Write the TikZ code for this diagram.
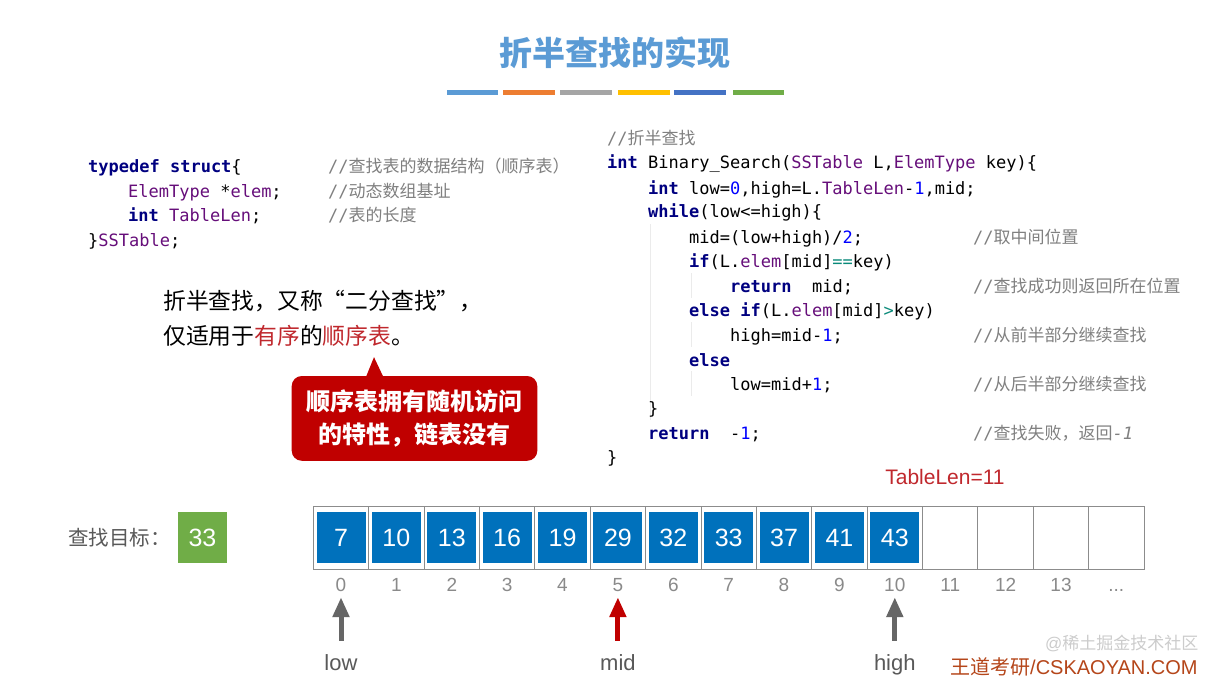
\documentclass[tikz,border=0pt]{standalone}
\usepackage{fontspec}
\setmainfont{Liberation Sans}
\newfontfamily\cjk{Noto Sans CJK SC}
\newfontfamily\codefont{DejaVu Sans Mono}
\usetikzlibrary{arrows.meta, positioning, calc}
\definecolor{TitleBlue}{HTML}{5B9BD5}
\definecolor{BarOrange}{HTML}{ED7D31}
\definecolor{BarGray}{HTML}{A5A5A5}
\definecolor{BarGold}{HTML}{FFC000}
\definecolor{BarBlue}{HTML}{4472C4}
\definecolor{BarGreen}{HTML}{70AD47}
\definecolor{KwNavy}{HTML}{000080}
\definecolor{TyPurple}{HTML}{660E7A}
\definecolor{NumBlue}{HTML}{0000FF}
\definecolor{OpTeal}{HTML}{0A8A7A}
\definecolor{CmtGray}{HTML}{808080}
\definecolor{DarkRed}{HTML}{C00000}
\definecolor{TextRed}{HTML}{C0282D}
\definecolor{CellBlue}{HTML}{0071BC}
\definecolor{CellLine}{HTML}{8C8C8C}
\definecolor{IdxGray}{HTML}{8A8A8A}
\definecolor{LabelGray}{HTML}{595959}
\definecolor{PtrGray}{HTML}{666666}
\definecolor{MarkBrown}{HTML}{B5461A}
\newcommand{\kw}[1]{{\bfseries\color{KwNavy}#1}}
\newcommand{\ty}[1]{{\color{TyPurple}#1}}
\newcommand{\nm}[1]{{\color{NumBlue}#1}}
\newcommand{\op}[1]{{\color{OpTeal}#1}}
\newcommand{\cmt}[1]{{\color{CmtGray}//{\cjk #1}}}

\begin{document}
\begin{tikzpicture}[
    x=1pt, y=-1pt,
    code/.style={anchor=base west, inner sep=0pt, font=\codefont\fontsize{17pt}{20pt}\selectfont},
    guide/.style={draw=black!8, line width=0.8pt},
    bar/.style={line width=5pt},
    cell/.style={draw=CellLine, line width=0.9pt, minimum width=55.38pt, minimum height=62.3pt, inner sep=0pt},
    full/.style={fill=CellBlue, minimum width=49pt, minimum height=51pt, inner sep=0pt, text=white, font=\fontsize{25pt}{25pt}\selectfont},
    idx/.style={anchor=base, inner sep=0pt, text height=14pt, text depth=0pt, text=IdxGray, font=\fontsize{19pt}{19pt}\selectfont},
    ptrlbl/.style={anchor=base, inner sep=0pt, text height=16pt, text depth=5pt, text=LabelGray, font=\fontsize{22pt}{22pt}\selectfont},
    ptr/.style={line width=5pt, -{Triangle[width=16pt, length=20pt]}, shorten <=13pt, shorten >=6pt},
    heading/.style={font=\cjk\bfseries\fontsize{33pt}{33pt}\selectfont, text=TitleBlue},
    remark/.style={anchor=west, inner sep=0pt, font=\cjk\fontsize{22.8pt}{23pt}\selectfont}
]
\fill[white] (0,0) rectangle (1227,690);
\useasboundingbox (0,0) rectangle (1227,690);

% === Title ===
\node[heading] (title) at (615,53) {折半查找的实现};
\draw[bar, TitleBlue] (447,93) -- (498,93);
\draw[bar, BarOrange] (503,93) -- (555,93);
\draw[bar, BarGray] (560,93) -- (612,93);
\draw[bar, BarGold] (618,93) -- (670,93);
\draw[bar, BarBlue] (674,93) -- (726,93);
\draw[bar, BarGreen] (733,93) -- (784,93);

% === Struct (left) ===
\node[code] (l1) at (88,173) {\kw{typedef struct}\{};
\node[code] (l2) at (128,197) {\ty{ElemType} *\ty{elem};};
\node[code] (l3) at (128,222) {\kw{int} \ty{TableLen};};
\node[code] (l4) at (88,246) {\}\ty{SSTable};};
\node[code] (lc1) at (328,173) {\cmt{查找表的数据结构（顺序表）}};
\node[code] (lc2) at (328,197) {\cmt{动态数组基址}};
\node[code] (lc3) at (328,222) {\cmt{表的长度}};

% === Binary search (right) ===
\draw[guide] (650,224) -- (650,420);
\draw[guide] (691,273) -- (691,298);
\draw[guide] (691,322) -- (691,347);
\draw[guide] (691,371) -- (691,396);
\node[code] (r0) at (607,145) {\cmt{折半查找}};
\node[code] (r1) at (607,169) {\kw{int} Binary\_Search(\ty{SSTable} L,\ty{ElemType} key)\{};
\node[code] (r2) at (648,194) {\kw{int} low=\nm{0},high=L.\ty{TableLen}-\nm{1},mid;};
\node[code] (r3) at (648,218) {\kw{while}(low<=high)\{};
\node[code] (r4) at (689,243) {mid=(low+high)/\nm{2};};
\node[code] (r5) at (689,267) {\kw{if}(L.\ty{elem}[mid]\op{==}key)};
\node[code] (r6) at (730,292) {\kw{return}\ \ mid;};
\node[code] (r7) at (689,316) {\kw{else if}(L.\ty{elem}[mid]\op{>}key)};
\node[code] (r8) at (730,341) {high=mid-\nm{1};};
\node[code] (r9) at (689,366) {\kw{else}};
\node[code] (r10) at (730,390) {low=mid+\nm{1};};
\node[code] (r11) at (648,414) {\}};
\node[code] (r12) at (648,439) {\kw{return}\ \ -\nm{1};};
\node[code] (r13) at (607,463) {\}};
\node[code] (rc4) at (973,243) {\cmt{取中间位置}};
\node[code] (rc6) at (973,292) {\cmt{查找成功则返回所在位置}};
\node[code] (rc8) at (973,341) {\cmt{从前半部分继续查找}};
\node[code] (rc10) at (973,390) {\cmt{从后半部分继续查找}};
\node[code] (rc12) at (973,439) {\cmt{查找失败，返回{\codefont\itshape -1}}};

% === Remark and callout ===
\node[remark] (rem1) at (163,301) {折半查找，又称“二分查找”，};
\node[remark] (rem2) at (163,336) {仅适用于{\color{TextRed}有序}的{\color{TextRed}顺序表}。};
\node[fill=DarkRed, rounded corners=10pt, minimum width=245.6pt, minimum height=84.7pt,
      text=white, align=center, font=\cjk\bfseries\fontsize{24pt}{33pt}\selectfont]
      (callout) at (414.5,418.4) {顺序表拥有随机访问\\的特性，链表没有};
\fill[DarkRed] ([xshift=-48.5pt, yshift=-1pt]callout.north) -- ([xshift=-40.5pt, yshift=18.7pt]callout.north)
    -- ([xshift=-31.2pt, yshift=-1pt]callout.north) -- cycle;

% === Target ===
\node[anchor=west, inner sep=0pt, text=LabelGray, font=\cjk\fontsize{20.5pt}{20.5pt}\selectfont] (target) at (68,538) {查找目标：};
\node[fill=BarGreen, minimum width=49pt, minimum height=51pt, inner sep=0pt, text=white,
      font=\fontsize{25pt}{25pt}\selectfont] (key) at (202.5,537.5) {33};

% === Table ===
\node[text=TextRed, font=\fontsize{21pt}{21pt}\selectfont] (len) at (945,477) {TableLen=11};

\node[cell] (c0) at (341.0,537.9) {};
\node[cell] (c1) at (396.4,537.9) {};
\node[cell] (c2) at (451.8,537.9) {};
\node[cell] (c3) at (507.1,537.9) {};
\node[cell] (c4) at (562.5,537.9) {};
\node[cell] (c5) at (617.9,537.9) {};
\node[cell] (c6) at (673.3,537.9) {};
\node[cell] (c7) at (728.7,537.9) {};
\node[cell] (c8) at (784.0,537.9) {};
\node[cell] (c9) at (839.4,537.9) {};
\node[cell] (c10) at (894.8,537.9) {};
\node[cell] (c11) at (950.2,537.9) {};
\node[cell] (c12) at (1005.6,537.9) {};
\node[cell] (c13) at (1061.0,537.9) {};
\node[cell] (c14) at (1116.3,537.9) {};

\node[full] (v0) at (c0) {7};
\node[full] (v1) at (c1) {10};
\node[full] (v2) at (c2) {13};
\node[full] (v3) at (c3) {16};
\node[full] (v4) at (c4) {19};
\node[full] (v5) at (c5) {29};
\node[full] (v6) at (c6) {32};
\node[full] (v7) at (c7) {33};
\node[full] (v8) at (c8) {37};
\node[full] (v9) at (c9) {41};
\node[full] (v10) at (c10) {43};

\node[idx] (i0) at (341.0,591) {0};
\node[idx] (i1) at (396.4,591) {1};
\node[idx] (i2) at (451.8,591) {2};
\node[idx] (i3) at (507.1,591) {3};
\node[idx] (i4) at (562.5,591) {4};
\node[idx] (i5) at (617.9,591) {5};
\node[idx] (i6) at (673.3,591) {6};
\node[idx] (i7) at (728.7,591) {7};
\node[idx] (i8) at (784.0,591) {8};
\node[idx] (i9) at (839.4,591) {9};
\node[idx] (i10) at (894.8,591) {10};
\node[idx] (i11) at (950.2,591) {11};
\node[idx] (i12) at (1005.6,591) {12};
\node[idx] (i13) at (1061.0,591) {13};
\node[idx] (i14) at (1116.3,591) {...};

% === Pointers ===
\node[ptrlbl] (low) at (341.0,670) {low};
\node[ptrlbl] (mid) at (617.9,670) {mid};
\node[ptrlbl] (high) at (894.8,670) {high};
\draw[ptr, PtrGray] (low) -- (i0);
\draw[ptr, DarkRed] (mid) -- (i5);
\draw[ptr, PtrGray] (high) -- (i10);

% === Marks ===
\node[anchor=west, inner sep=0pt, text=black!20, font=\fontsize{17pt}{17pt}\selectfont] (wm) at (1045,643) {@{\cjk 稀土掘金技术社区}};
\node[anchor=west, inner sep=0pt, text=MarkBrown, font=\fontsize{20pt}{20pt}\selectfont] (brand) at (950,667) {{\cjk 王道考研}/CSKAOYAN.COM};
\end{tikzpicture}
\end{document}
